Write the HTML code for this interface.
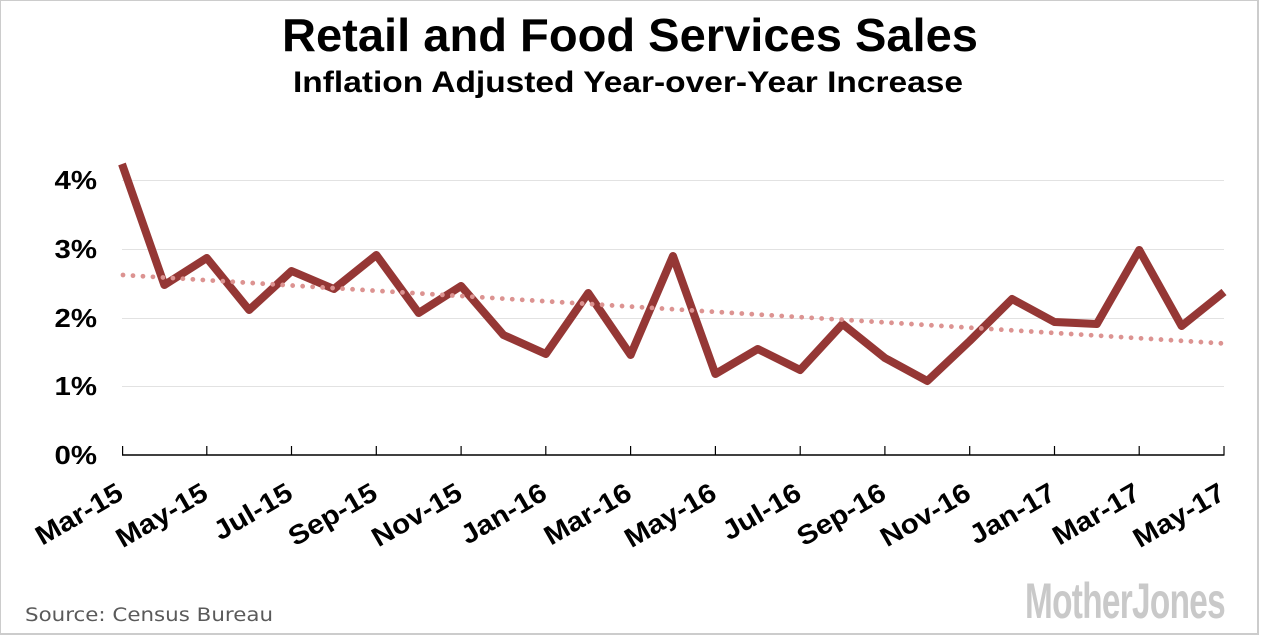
<!DOCTYPE html>
<html>
<head>
<meta charset="utf-8">
<style>
  html, body { margin:0; padding:0; background:#fff; }
  svg { display:block; }
</style>
</head>
<body>
<svg width="1261" height="635" viewBox="0 0 1261 635" xmlns="http://www.w3.org/2000/svg">
  <rect x="0" y="0" width="1261" height="635" fill="#ffffff"/>
  <rect x="0" y="0" width="1258" height="634" fill="none" stroke="#cccccc" stroke-width="2"/>

  <!-- Titles -->
  <text x="282" y="51" font-family="Liberation Sans, sans-serif" font-weight="bold" font-size="46" fill="#000" textLength="696" lengthAdjust="spacingAndGlyphs">Retail and Food Services Sales</text>
  <text x="293" y="92" font-family="Liberation Sans, sans-serif" font-weight="bold" font-size="30" fill="#000" textLength="670" lengthAdjust="spacingAndGlyphs">Inflation Adjusted Year-over-Year Increase</text>

  <!-- Gridlines -->
  <g stroke="#e2e2e2" stroke-width="1">
    <line x1="122" y1="180.5" x2="1224" y2="180.5"/>
    <line x1="122" y1="249.5" x2="1224" y2="249.5"/>
    <line x1="122" y1="318.5" x2="1224" y2="318.5"/>
    <line x1="122" y1="386.5" x2="1224" y2="386.5"/>
  </g>

  <!-- Y labels -->
  <g font-family="Liberation Sans, sans-serif" font-weight="bold" font-size="26" fill="#000" text-anchor="end">
    <text transform="translate(97,189) scale(1.13,1)">4%</text>
    <text transform="translate(97,258) scale(1.13,1)">3%</text>
    <text transform="translate(97,327) scale(1.13,1)">2%</text>
    <text transform="translate(97,395) scale(1.13,1)">1%</text>
    <text transform="translate(97,464) scale(1.13,1)">0%</text>
  </g>

  <!-- Axis -->
  <line x1="122" y1="455" x2="1224.5" y2="455" stroke="#000" stroke-width="1.6"/>
  <g stroke="#000" stroke-width="1.2">
    <line x1="122.6" y1="446" x2="122.6" y2="455"/>
    <line x1="206.8" y1="446" x2="206.8" y2="455"/>
    <line x1="291.5" y1="446" x2="291.5" y2="455"/>
    <line x1="376.3" y1="446" x2="376.3" y2="455"/>
    <line x1="461.1" y1="446" x2="461.1" y2="455"/>
    <line x1="545.8" y1="446" x2="545.8" y2="455"/>
    <line x1="630.6" y1="446" x2="630.6" y2="455"/>
    <line x1="715.4" y1="446" x2="715.4" y2="455"/>
    <line x1="800.2" y1="446" x2="800.2" y2="455"/>
    <line x1="884.9" y1="446" x2="884.9" y2="455"/>
    <line x1="969.7" y1="446" x2="969.7" y2="455"/>
    <line x1="1054.5" y1="446" x2="1054.5" y2="455"/>
    <line x1="1139.2" y1="446" x2="1139.2" y2="455"/>
    <line x1="1224" y1="446" x2="1224" y2="455"/>
  </g>

  <!-- X labels -->
  <g font-family="Liberation Sans, sans-serif" font-weight="bold" font-size="27" fill="#000" text-anchor="end">
    <text transform="translate(125,498) rotate(-30) scale(1.1,1)">Mar-15</text>
    <text transform="translate(209.8,498) rotate(-30) scale(1.1,1)">May-15</text>
    <text transform="translate(294.5,498) rotate(-30) scale(1.1,1)">Jul-15</text>
    <text transform="translate(379.3,498) rotate(-30) scale(1.1,1)">Sep-15</text>
    <text transform="translate(464.1,498) rotate(-30) scale(1.1,1)">Nov-15</text>
    <text transform="translate(548.8,498) rotate(-30) scale(1.1,1)">Jan-16</text>
    <text transform="translate(633.6,498) rotate(-30) scale(1.1,1)">Mar-16</text>
    <text transform="translate(718.4,498) rotate(-30) scale(1.1,1)">May-16</text>
    <text transform="translate(803.2,498) rotate(-30) scale(1.1,1)">Jul-16</text>
    <text transform="translate(887.9,498) rotate(-30) scale(1.1,1)">Sep-16</text>
    <text transform="translate(972.7,498) rotate(-30) scale(1.1,1)">Nov-16</text>
    <text transform="translate(1057.5,498) rotate(-30) scale(1.1,1)">Jan-17</text>
    <text transform="translate(1142.2,498) rotate(-30) scale(1.1,1)">Mar-17</text>
    <text transform="translate(1227,498) rotate(-30) scale(1.1,1)">May-17</text>
  </g>

  <!-- Data line -->
  <polyline fill="none" stroke="#953735" stroke-width="8" stroke-linejoin="round" stroke-linecap="butt"
    points="122,164 164.38,285 206.77,258 249.15,310 291.54,271 333.92,289 376.31,255 418.69,313 461.08,286 503.46,335 545.85,354 588.23,293 630.62,355 673,256 715.38,374 757.77,349 800.15,370 842.54,324 884.92,358 927.31,381 969.69,341 1012.08,299 1054.46,322 1096.85,324 1139.23,250 1181.62,326 1224,292"/>

  <!-- Trend line (dotted) -->
  <line x1="123" y1="275" x2="1224" y2="343.5" stroke="#dc9391" stroke-width="4.8" stroke-linecap="round" stroke-dasharray="0 10"/>

  <!-- Source -->
  <text x="25" y="621" font-family="DejaVu Sans, Liberation Sans, sans-serif" font-size="19" fill="#5a5a5a" textLength="248" lengthAdjust="spacingAndGlyphs">Source: Census Bureau</text>

  <!-- Logo -->
  <text x="1025" y="618" font-family="Liberation Sans Narrow, Liberation Sans, sans-serif" font-weight="bold" font-size="50" fill="#c9c9c9" textLength="200" lengthAdjust="spacingAndGlyphs" letter-spacing="-1">MotherJones</text>
</svg>
</body>
</html>
